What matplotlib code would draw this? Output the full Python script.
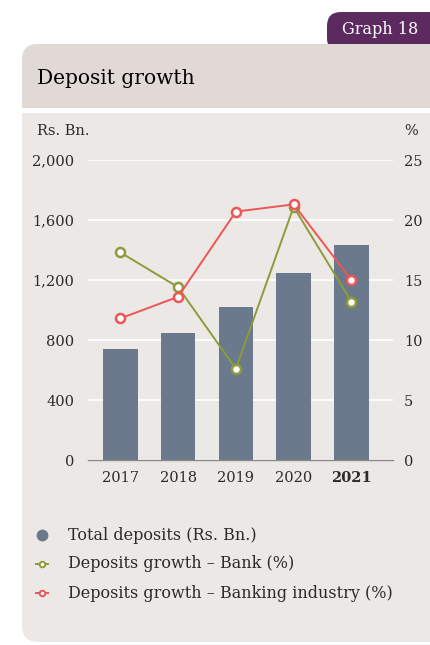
import numpy as np
import matplotlib
matplotlib.use("Agg")
import matplotlib.pyplot as plt
from matplotlib.patches import FancyBboxPatch, Rectangle

# deposit figures
years = ["2017", "2018", "2019", "2020", "2021"]
total_deposits = [740, 847, 1022, 1247, 1433]
growth_bank = [17.3, 14.4, 7.6, 21.1, 13.2]
growth_industry = [11.8, 13.6, 20.7, 21.3, 15.0]

left_ticks = [0, 400, 800, 1200, 1600, 2000]
right_ticks = [0, 5, 10, 15, 20, 25]

BAR = "#6a798b"
GREEN = "#8c9c3a"
RED = "#ee5557"
TEXT = "#2b2b2b"
PANEL = "#ece8e5"
HEADER = "#e1d9d6"
PURPLE = "#5d2a60"

plt.rcParams['font.family'] = ['DejaVu Serif']

W, H = 430, 645
fig = plt.figure(figsize=(W / 100, H / 100), dpi=100)
fig.patch.set_facecolor("white")


def px(x, y):
    # pixel coords (from top-left) to figure fraction
    return x / W, 1 - y / H


# background panels
bg = fig.add_axes([0, 0, 1, 1])
bg.set_xlim(0, W)
bg.set_ylim(H, 0)
bg.axis("off")
bg.add_patch(FancyBboxPatch((327, 12), 130, 40, boxstyle="round,pad=0,rounding_size=14",
                            fc=PURPLE, ec="none"))
bg.add_patch(FancyBboxPatch((22, 44), 440, 598, boxstyle="round,pad=0,rounding_size=16",
                            fc=PANEL, ec="none"))
bg.add_patch(FancyBboxPatch((22, 44), 440, 50, boxstyle="round,pad=0,rounding_size=16",
                            fc=HEADER, ec="none"))
bg.add_patch(Rectangle((22, 80), 440, 28, fc=HEADER, ec="none"))
bg.add_patch(Rectangle((22, 108), 440, 5, fc="white", ec="none"))
bg.text(380, 29, "Graph 18", color="white", fontsize=11.5, ha="center", va="center")
bg.text(37, 78, "Deposit growth", color="black", fontsize=14.5, ha="left", va="center")
bg.text(37, 131, "Rs. Bn.", color=TEXT, fontsize=10.5, ha="left", va="center")
bg.text(418, 131, "%", color=TEXT, fontsize=10.5, ha="right", va="center")

# chart area
l, b = px(88, 460)
r, t = px(393, 160)
ax = fig.add_axes([l, b, r - l, t - b])
ax.set_facecolor("none")
x = np.arange(len(years))
ax.bar(x, total_deposits, width=0.6, color=BAR, zorder=2)
ax.set_xlim(-0.56, 4.72)
ax.set_ylim(0, 2000)
ax.set_yticks(left_ticks)
ax.set_yticklabels([f"{v:,}" for v in left_ticks])
ax.yaxis.grid(True, color="white", lw=1.2, zorder=0)
ax.set_axisbelow(True)
for s in ["top", "right", "left"]:
    ax.spines[s].set_visible(False)
ax.spines["bottom"].set_color("#8a8a8a")
ax.spines["bottom"].set_linewidth(1.0)
ax.tick_params(axis="both", length=0, colors=TEXT, labelsize=10.5)
ax.tick_params(axis="y", pad=10)
ax.tick_params(axis="x", pad=8)
ax.set_xticks(x)
ax.set_xticklabels(years)
ax.get_xticklabels()[-1].set_fontweight("bold")

ax2 = ax.twinx()
ax2.set_ylim(0, 25)
ax2.set_yticks(right_ticks)
ax2.tick_params(axis="y", length=0, colors=TEXT, labelsize=10.5, pad=8)
for s in ax2.spines.values():
    s.set_visible(False)
ax2.plot(x, growth_bank, color=GREEN, lw=1.4, marker="o", ms=6.5, mfc="white",
         mec=GREEN, mew=1.8, zorder=3)
ax2.plot(x, growth_industry, color=RED, lw=1.4, marker="o", ms=6.5, mfc="white",
         mec=RED, mew=1.8, zorder=3)

# legend
bg.plot(42, 535, "o", color=BAR, ms=7.5)
bg.plot([36, 48], [564, 564], color=GREEN, lw=1.4)
bg.plot(42, 564, "o", ms=4, mfc="white", mec=GREEN, mew=1.4)
bg.plot([36, 48], [593, 593], color=RED, lw=1.4)
bg.plot(42, 593, "o", ms=4, mfc="white", mec=RED, mew=1.4)
bg.text(68, 535, "Total deposits (Rs. Bn.)", color=TEXT, fontsize=11.5, va="center")
bg.text(68, 564, "Deposits growth \u2013 Bank (%)", color=TEXT, fontsize=11.5, va="center")
bg.text(68, 593, "Deposits growth \u2013 Banking industry (%)", color=TEXT, fontsize=11.5, va="center")

fig.savefig("out.png", dpi=100, facecolor=fig.get_facecolor())
